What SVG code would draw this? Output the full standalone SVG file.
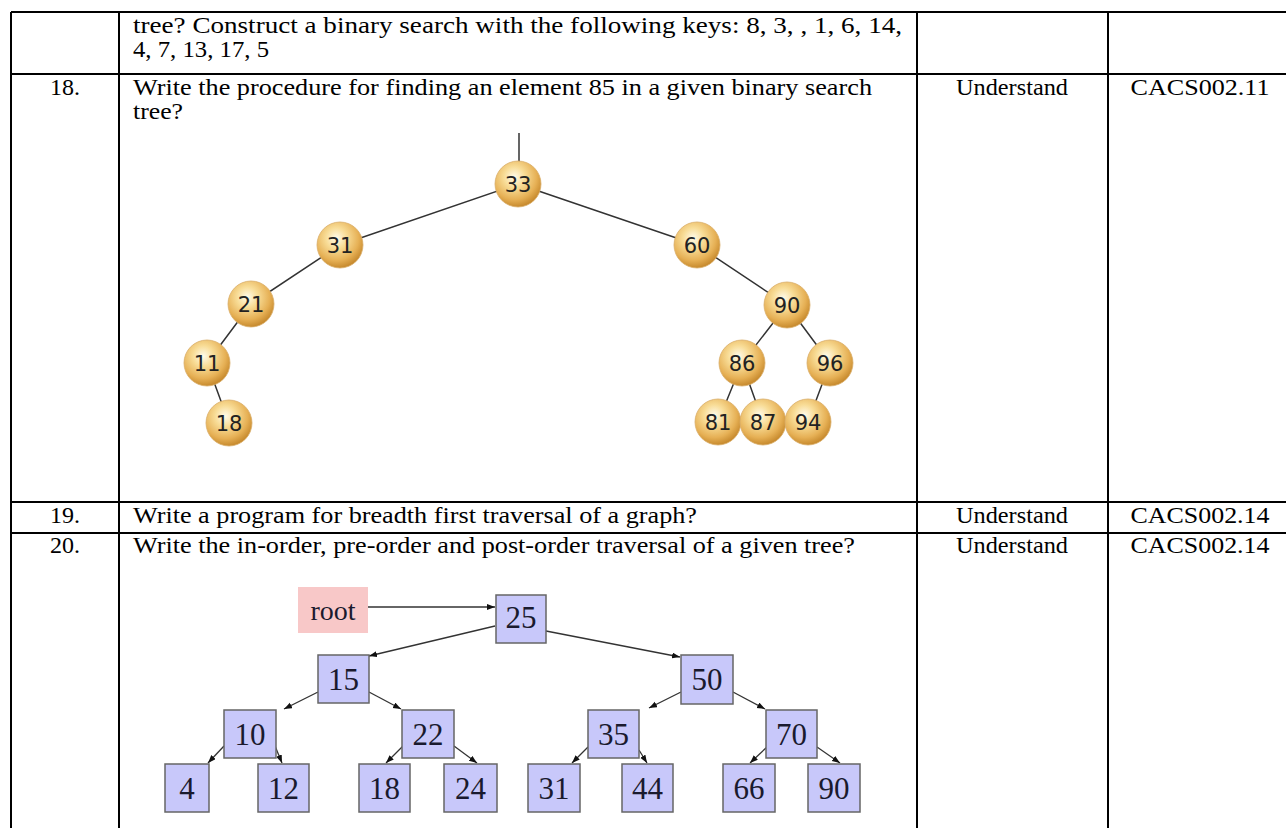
<svg xmlns="http://www.w3.org/2000/svg" width="1286" height="828" viewBox="0 0 1286 828">
<defs>
<radialGradient id="gold" cx="42%" cy="35%" r="65%">
<stop offset="0%" stop-color="#fffbea"/>
<stop offset="35%" stop-color="#f8dc96"/>
<stop offset="75%" stop-color="#e6b055"/>
<stop offset="100%" stop-color="#c78a2e"/>
</radialGradient>
<marker id="ah" markerUnits="userSpaceOnUse" markerWidth="9" markerHeight="7" refX="8" refY="3" orient="auto">
<path d="M0,0 L8,3 L0,6 z" fill="#111"/>
</marker>
<style>
.grid{stroke:#000;stroke-width:2;fill:none}
.t{font-family:"Liberation Serif","Times New Roman",serif;font-size:23px;fill:#000}
.c{text-anchor:middle}
.e1{stroke:#333;stroke-width:1.5;fill:none}
.e2{stroke:#333;stroke-width:1.3;fill:none;marker-end:url(#ah)}
.sp{fill:url(#gold);stroke:#d9ad68;stroke-width:0.8}
.st{font-family:"DejaVu Sans",Verdana,sans-serif;font-size:21px;fill:#222;text-anchor:middle}
.bx{fill:#c8c8fa;stroke:#666;stroke-width:1.5}
.bt{font-family:"Liberation Serif","Times New Roman",serif;font-size:31px;fill:#1a1a2e;text-anchor:middle}
</style>
</defs>
<rect width="1286" height="828" fill="#fff"/>
<g id="table">
<path class="grid" d="M11,12 H1290 M11,74 H1290 M11,502 H1290 M11,533 H1290 M11,12 V830 M119,12 V830 M917,12 V830 M1108,12 V830"/>
<text class="t" x="133" y="33" textLength="769" lengthAdjust="spacingAndGlyphs">tree? Construct a binary search with the following keys: 8, 3, , 1, 6, 14,</text>
<text class="t" x="133" y="57" textLength="136" lengthAdjust="spacingAndGlyphs">4, 7, 13, 17, 5</text>
<text class="t c" x="65" y="95" textLength="30" lengthAdjust="spacingAndGlyphs">18.</text>
<text class="t" x="133" y="95" textLength="739" lengthAdjust="spacingAndGlyphs">Write the procedure for finding an element 85 in a given binary search</text>
<text class="t" x="133" y="119" textLength="50" lengthAdjust="spacingAndGlyphs">tree?</text>
<text class="t c" x="1012" y="95" textLength="112" lengthAdjust="spacingAndGlyphs">Understand</text>
<text class="t c" x="1200" y="95" textLength="139" lengthAdjust="spacingAndGlyphs">CACS002.11</text>
<text class="t c" x="65" y="523" textLength="30" lengthAdjust="spacingAndGlyphs">19.</text>
<text class="t" x="133" y="523" textLength="564" lengthAdjust="spacingAndGlyphs">Write a program for breadth first traversal of a graph?</text>
<text class="t c" x="1012" y="523" textLength="112" lengthAdjust="spacingAndGlyphs">Understand</text>
<text class="t c" x="1200" y="523" textLength="139" lengthAdjust="spacingAndGlyphs">CACS002.14</text>
<text class="t c" x="65" y="553" textLength="30" lengthAdjust="spacingAndGlyphs">20.</text>
<text class="t" x="133" y="553" textLength="722" lengthAdjust="spacingAndGlyphs">Write the in-order, pre-order and post-order traversal of a given tree?</text>
<text class="t c" x="1012" y="553" textLength="112" lengthAdjust="spacingAndGlyphs">Understand</text>
<text class="t c" x="1200" y="553" textLength="139" lengthAdjust="spacingAndGlyphs">CACS002.14</text>
</g>
<g id="bst1-edges">
<path class="e1" d="M519,133 V162 M518,184 L340,245 M518,184 L697,245 M340,245 L251,304 M251,304 L207,363 M207,363 L229,423 M697,245 L787,305 M787,305 L742,363 M787,305 L830,363 M742,363 L718,422 M742,363 L763,422 M830,363 L808,422"/>
</g>
<g id="n33"><circle class="sp" cx="518" cy="184" r="23"/><text class="st" x="518" y="191.5">33</text></g>
<g id="n31"><circle class="sp" cx="340" cy="245" r="23"/><text class="st" x="340" y="252.5">31</text></g>
<g id="n60"><circle class="sp" cx="697" cy="245" r="23"/><text class="st" x="697" y="252.5">60</text></g>
<g id="n21"><circle class="sp" cx="251" cy="304" r="23"/><text class="st" x="251" y="311.5">21</text></g>
<g id="n90"><circle class="sp" cx="787" cy="305" r="23"/><text class="st" x="787" y="312.5">90</text></g>
<g id="n11"><circle class="sp" cx="207" cy="363" r="23"/><text class="st" x="207" y="370.5">11</text></g>
<g id="n86"><circle class="sp" cx="742" cy="363" r="23"/><text class="st" x="742" y="370.5">86</text></g>
<g id="n96"><circle class="sp" cx="830" cy="363" r="23"/><text class="st" x="830" y="370.5">96</text></g>
<g id="n18"><circle class="sp" cx="229" cy="423" r="23"/><text class="st" x="229" y="430.5">18</text></g>
<g id="n81"><circle class="sp" cx="718" cy="422" r="23"/><text class="st" x="718" y="429.5">81</text></g>
<g id="n87"><circle class="sp" cx="763" cy="422" r="23"/><text class="st" x="763" y="429.5">87</text></g>
<g id="n94"><circle class="sp" cx="808" cy="422" r="23"/><text class="st" x="808" y="429.5">94</text></g>
<g id="bst2-edges">
<path class="e2" d="M368,607 L495,607"/>
<path class="e2" d="M495,626 L369,656"/>
<path class="e2" d="M546,631 L680,657"/>
<path class="e2" d="M318,692 L284,709"/>
<path class="e2" d="M369,692 L401,709"/>
<path class="e2" d="M681,692 L649,708"/>
<path class="e2" d="M733,692 L765,709"/>
<path class="e2" d="M224,746 L208,763"/>
<path class="e2" d="M275,746 L282,763"/>
<path class="e2" d="M403,746 L386,763"/>
<path class="e2" d="M454,746 L477,763"/>
<path class="e2" d="M588,747 L572,763"/>
<path class="e2" d="M639,750 L647,763"/>
<path class="e2" d="M767,747 L750,763"/>
<path class="e2" d="M817,747 L840,763"/>
</g>
<g id="root"><rect x="298" y="587" width="70" height="46" fill="#f8c8c8"/><text class="bt" x="333" y="620" style="font-size:28px">root</text></g>
<g id="b25"><rect class="bx" x="496" y="595" width="50" height="48"/><text class="bt" x="521" y="628">25</text></g>
<g id="b15"><rect class="bx" x="318" y="655" width="51" height="48"/><text class="bt" x="343.5" y="690">15</text></g>
<g id="b50"><rect class="bx" x="681" y="655" width="52" height="49"/><text class="bt" x="707" y="690">50</text></g>
<g id="b10"><rect class="bx" x="224" y="710" width="52" height="48"/><text class="bt" x="250" y="745">10</text></g>
<g id="b22"><rect class="bx" x="402" y="710" width="52" height="48"/><text class="bt" x="428" y="745">22</text></g>
<g id="b35"><rect class="bx" x="588" y="710" width="51" height="48"/><text class="bt" x="613.5" y="745">35</text></g>
<g id="b70"><rect class="bx" x="766" y="710" width="51" height="48"/><text class="bt" x="791.5" y="745">70</text></g>
<g id="b4"><rect class="bx" x="165" y="764" width="44" height="48"/><text class="bt" x="187" y="799">4</text></g>
<g id="b12"><rect class="bx" x="258" y="764" width="51" height="48"/><text class="bt" x="283.5" y="799">12</text></g>
<g id="b18"><rect class="bx" x="359" y="764" width="51" height="48"/><text class="bt" x="384.5" y="799">18</text></g>
<g id="b24"><rect class="bx" x="444" y="764" width="53" height="48"/><text class="bt" x="470.5" y="799">24</text></g>
<g id="b31"><rect class="bx" x="528" y="764" width="52" height="48"/><text class="bt" x="554" y="799">31</text></g>
<g id="b44"><rect class="bx" x="622" y="764" width="51" height="48"/><text class="bt" x="647.5" y="799">44</text></g>
<g id="b66"><rect class="bx" x="723" y="764" width="52" height="48"/><text class="bt" x="749" y="799">66</text></g>
<g id="b90"><rect class="bx" x="808" y="764" width="52" height="48"/><text class="bt" x="834" y="799">90</text></g>
</svg>
